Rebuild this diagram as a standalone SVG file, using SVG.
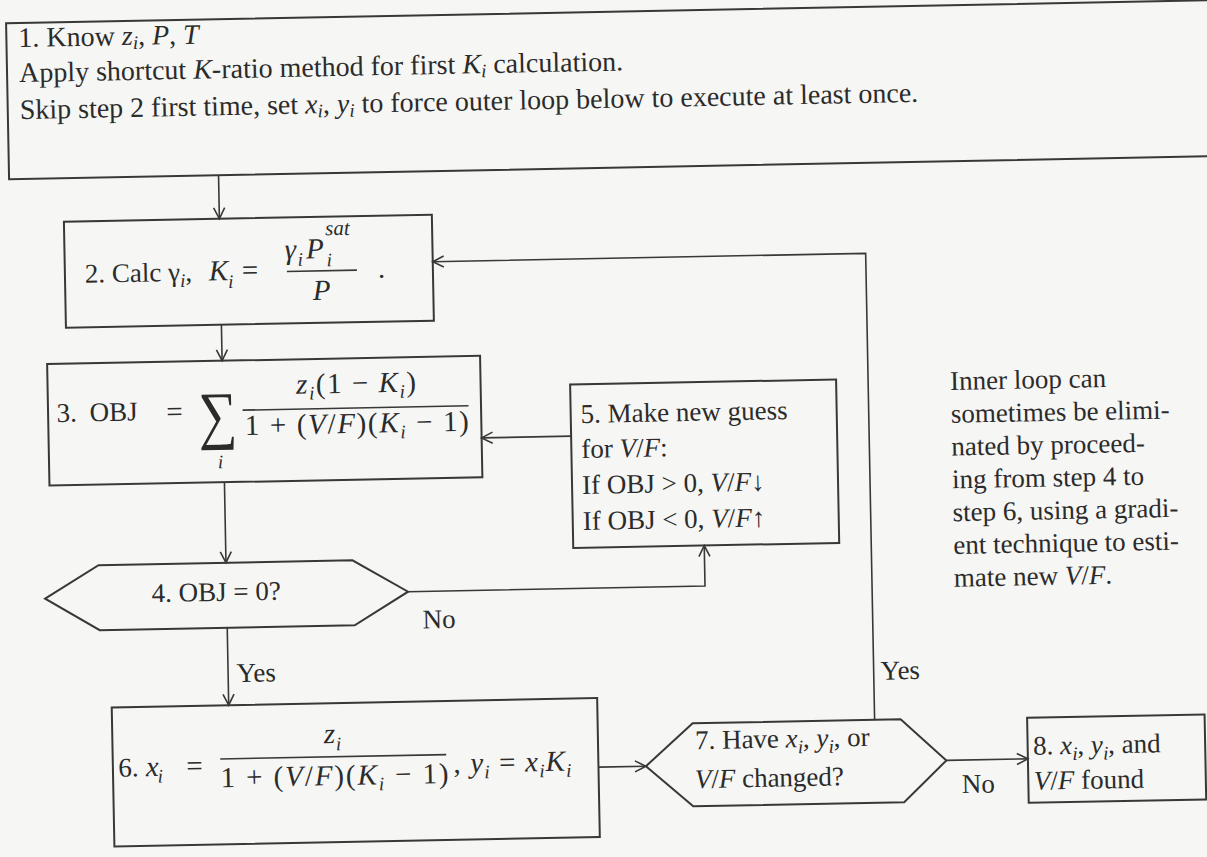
<svg xmlns="http://www.w3.org/2000/svg" width="1207" height="857" viewBox="0 0 1207 857">
<style>
text{font-family:"Liberation Serif","Times New Roman",serif;font-size:27px;fill:#2b2b2b}
.t1{font-size:28px}
.it{font-style:italic}
.sb{font-size:19px;font-style:italic}
.fm{font-size:29px}
.box{fill:none;stroke:#383838;stroke-width:2}
.ln{fill:none;stroke:#383838;stroke-width:1.6}
.arr{marker-end:url(#ah)}
</style>
<defs>
<marker id="ah" markerUnits="userSpaceOnUse" markerWidth="14" markerHeight="14" refX="12" refY="7" orient="auto">
<path d="M1,1.5 L12,7 L1,12.5" fill="none" stroke="#383838" stroke-width="1.6"/>
</marker>
</defs>
<rect width="1207" height="857" fill="#f6f6f4"/>
<g transform="rotate(-1.1 600 430)">
<g id="node1">
<rect class="box" x="14" y="12" width="1230" height="156"/>
<text class="t1" x="26" y="36">1. Know <tspan class="it">z</tspan><tspan class="sb" dy="4">i</tspan><tspan dy="-4">, </tspan><tspan class="it">P</tspan>, <tspan class="it">T</tspan></text>
<text class="t1" x="26" y="71"><tspan>Apply shortcut </tspan><tspan class="it">K</tspan><tspan>-ratio method</tspan><tspan> for first </tspan><tspan class="it">K</tspan><tspan class="sb" dy="4">i</tspan><tspan dy="-4"> calcu</tspan><tspan>lation.</tspan></text>
<text class="t1" x="26" y="108"><tspan>Skip step 2 </tspan><tspan>first time, set </tspan><tspan class="it">x</tspan><tspan class="sb" dy="4">i</tspan><tspan dy="-4">, </tspan><tspan class="it">y</tspan><tspan class="sb" dy="4">i</tspan><tspan dy="-4"> to force</tspan><tspan> outer</tspan><tspan> loop</tspan><tspan> below</tspan><tspan> to</tspan><tspan> execute</tspan><tspan> at</tspan><tspan> least</tspan><tspan> once.</tspan></text>
</g>
<g id="node2">
<rect class="box" x="68" y="211.5" width="368" height="106"/>
<text x="88" y="273">2. Calc γ<tspan class="sb" dy="6">i</tspan><tspan dy="-6">,</tspan></text>
<text class="fm it" x="212" y="273">K</text>
<text class="sb" x="231" y="281">i</text>
<text class="fm" x="245" y="273">=</text>
<text class="fm it" x="288" y="253">γ</text>
<text class="sb" x="301" y="260">i</text>
<text class="fm it" x="309.5" y="253">P</text>
<text class="sb" x="329" y="230" style="font-size:21px">sat</text>
<text class="sb" x="330" y="261">i</text>
<line class="ln" x1="290" y1="265.5" x2="360" y2="265.5"/>
<text class="fm it" x="315.5" y="294.5">P</text>
<text class="fm" x="381" y="273.5">.</text>
</g>
<g id="node3">
<rect class="box" x="48.5" y="353.5" width="433" height="121.5"/>
<text x="57" y="411.5">3.</text>
<text x="90" y="411.5">OBJ</text>
<text class="fm" x="175" y="413" text-anchor="middle">=</text>
<text x="0" y="0" text-anchor="middle" transform="translate(218 429) scale(0.85 1)" style="font-size:64px">∑</text>
<text class="sb" x="220" y="461" text-anchor="middle">i</text>
<text class="fm" x="297" y="388" textLength="120"><tspan class="it">z</tspan><tspan class="sb" dy="6">i</tspan><tspan dy="-6">(1 − </tspan><tspan class="it">K</tspan><tspan class="sb" dy="6">i</tspan><tspan dy="-6">)</tspan></text>
<line class="ln" x1="243" y1="403.3" x2="469" y2="403.3"/>
<text class="fm" x="245" y="428.3" textLength="224">1 + (<tspan class="it">V</tspan>/<tspan class="it">F</tspan>)(<tspan class="it">K</tspan><tspan class="sb" dy="6">i</tspan><tspan dy="-6"> − 1)</tspan></text>
</g>
<g id="node4">
<polygon class="box" points="42,588 96,555.5 350,555.5 405,588 351,620.5 96,620.5"/>
<text x="148.5" y="593.5">4. OBJ = 0?</text>
</g>
<g id="node5">
<rect class="box" x="571" y="384" width="266" height="163.5"/>
<text x="581" y="422.6">5. Make new guess</text>
<text x="581" y="457.6">for <tspan class="it">V</tspan>/<tspan class="it">F</tspan>:</text>
<text x="581" y="493.6">If OBJ &gt; 0, <tspan class="it">V</tspan>/<tspan class="it">F</tspan>↓</text>
<text x="581" y="529.6">If OBJ &lt; 0, <tspan class="it">V</tspan>/<tspan class="it">F</tspan>↑</text>
</g>
<g id="node6">
<rect class="box" x="106.5" y="698" width="485.5" height="139"/>
<text x="112" y="767.5">6.</text>
<text class="fm it" x="139.5" y="767.5">x</text>
<text class="sb" x="151" y="774">i</text>
<text class="fm" x="180" y="767.5">=</text>
<text class="fm it" x="318" y="738">z</text>
<text class="sb" x="330" y="745">i</text>
<line class="ln" x1="214" y1="751.6" x2="440" y2="751.6"/>
<text class="fm" x="214" y="780" textLength="228">1 + (<tspan class="it">V</tspan>/<tspan class="it">F</tspan>)(<tspan class="it">K</tspan><tspan class="sb" dy="6">i</tspan><tspan dy="-6"> − 1)</tspan></text>
<text class="fm" x="447" y="770" textLength="118">, <tspan class="it">y</tspan><tspan class="sb" dy="6">i</tspan><tspan dy="-6"> = </tspan><tspan class="it">x</tspan><tspan class="sb" dy="6">i</tspan><tspan class="it" dy="-6">K</tspan><tspan class="sb" dy="6">i</tspan></text>
</g>
<g id="node7">
<polygon class="box" points="639.5,767 687,725 895,725 940,767 897,808 686,808"/>
<text x="689" y="751">7. Have <tspan class="it">x</tspan><tspan class="sb" dy="6">i</tspan><tspan dy="-6">, </tspan><tspan class="it">y</tspan><tspan class="sb" dy="6">i</tspan><tspan dy="-6">, or</tspan></text>
<text x="688" y="790"><tspan class="it">V</tspan>/<tspan class="it">F</tspan> changed?</text>
</g>
<g id="node8">
<rect class="box" x="1021.5" y="726" width="177.5" height="85"/>
<text x="1027" y="763">8. <tspan class="it">x</tspan><tspan class="sb" dy="6">i</tspan><tspan dy="-6">, </tspan><tspan class="it">y</tspan><tspan class="sb" dy="6">i</tspan><tspan dy="-6">, and</tspan></text>
<text x="1027" y="798"><tspan class="it">V</tspan>/<tspan class="it">F</tspan> found</text>
</g>
<g id="note">
<text x="951" y="396.7">Inner loop can</text>
<text x="951" y="429.5">sometimes be elimi-</text>
<text x="951" y="462.3">nated by proceed-</text>
<text x="951" y="495.1">ing from step 4 to</text>
<text x="951" y="527.9">step 6, using a gradi-</text>
<text x="951" y="560.7">ent technique to esti-</text>
<text x="951" y="593.5">mate new <tspan class="it">V</tspan>/<tspan class="it">F</tspan>.</text>
</g>
<g id="connectors">
<line class="ln arr" x1="223.5" y1="168" x2="223.5" y2="211.5"/>
<line class="ln arr" x1="223.5" y1="317.5" x2="223.5" y2="353.5"/>
<line class="ln arr" x1="223.5" y1="475" x2="223.5" y2="555.5"/>
<polyline class="ln arr" points="405,588 702,588 702,547.5"/>
<line class="ln arr" x1="571" y1="435.6" x2="481.5" y2="435.6"/>
<line class="ln arr" x1="223.5" y1="620.5" x2="223.5" y2="698"/>
<line class="ln arr" x1="592" y1="767" x2="639.5" y2="767"/>
<polyline class="ln arr" points="869,725 869,258.5 436,258.5"/>
<line class="ln arr" x1="940" y1="767" x2="1021.5" y2="767"/>
<text x="419" y="625">No</text>
<text x="232" y="675">Yes</text>
<text x="876" y="685">Yes</text>
<text x="955" y="800">No</text>
</g>
</g>
</svg>
